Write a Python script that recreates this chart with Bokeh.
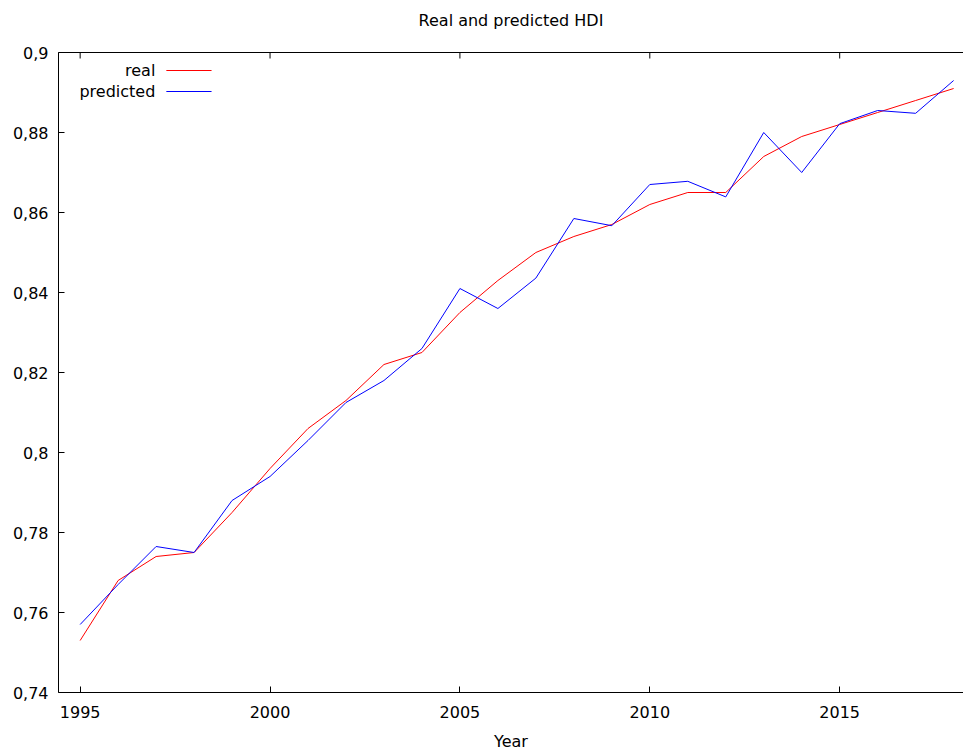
from bokeh.plotting import figure
from bokeh.models import (Range1d, FixedTicker, CustomJSTickFormatter, LinearAxis,
                          Label, Arrow)
from bokeh.embed import file_html
from bokeh.resources import INLINE

years = list(range(1995, 2019))
real = [0.753, 0.768, 0.774, 0.775, 0.785, 0.796, 0.806, 0.813, 0.822, 0.825,
        0.835, 0.843, 0.850, 0.854, 0.857, 0.862, 0.865, 0.865, 0.874, 0.879,
        0.882, 0.885, 0.888, 0.891]
predicted = [0.757, 0.767, 0.7765, 0.775, 0.788, 0.794, 0.803, 0.8125, 0.818, 0.826,
             0.841, 0.836, 0.8436, 0.8585, 0.8567, 0.867, 0.8678, 0.8639, 0.880, 0.870,
             0.8822, 0.8855, 0.8848, 0.893]
x_ticks = [1995, 2000, 2005, 2010, 2015]
y_ticks = [0.74, 0.76, 0.78, 0.80, 0.82, 0.84, 0.86, 0.88, 0.90]
series_names = ["real", "predicted"]
series_colors = ["#ff0000", "#0000ff"]
title_text = "Real and predicted HDI"
x_title = "Year"

FONT = "DejaVu Sans"
FS = "16px"
X0, X1, Y0, Y1 = 1994.43, 2018.26, 0.74, 0.90

p = figure(width=963, height=754, output_backend="svg", toolbar_location=None,
           x_range=Range1d(X0, X1), y_range=Range1d(Y0, Y1),
           min_border_left=58, min_border_right=0, min_border_top=52,
           min_border_bottom=62)

p.grid.visible = False
p.outline_line_color = None
p.background_fill_color = "white"
p.border_fill_color = "white"

fmt = CustomJSTickFormatter(code="return String(Math.round(tick*100)/100).replace('.', ',');")

for ax in [p.xaxis[0], p.yaxis[0]]:
    ax.major_tick_in = 6
    ax.major_tick_out = 0
    ax.minor_tick_in = 0
    ax.minor_tick_out = 0
    ax.axis_line_color = "#000000"
    ax.axis_line_width = 1
    ax.major_tick_line_color = "#000000"
    ax.major_label_text_font = FONT
    ax.major_label_text_font_size = FS
    ax.major_label_text_color = "#000000"

p.xaxis[0].ticker = FixedTicker(ticks=x_ticks)
p.xaxis[0].major_label_standoff = 13
p.xaxis[0].axis_label = x_title
p.xaxis[0].axis_label_text_font = FONT
p.xaxis[0].axis_label_text_font_size = FS
p.xaxis[0].axis_label_text_font_style = "normal"
p.xaxis[0].axis_label_text_color = "#000000"
p.xaxis[0].axis_label_standoff = 11
p.yaxis[0].ticker = FixedTicker(ticks=y_ticks)
p.yaxis[0].formatter = fmt
p.yaxis[0].major_label_standoff = 10

# top border line, carrying the chart title as its label
top = LinearAxis(ticker=FixedTicker(ticks=[]), major_tick_in=0, major_tick_out=0,
                 minor_tick_in=0, minor_tick_out=0, major_label_standoff=0,
                 axis_line_color="#000000", axis_label=title_text,
                 axis_label_text_font=FONT, axis_label_text_font_size=FS,
                 axis_label_text_font_style="normal", axis_label_text_color="#000000",
                 axis_label_standoff=23)
p.add_layout(top, "above")
# mirrored inward ticks on the top border
tick_len = (Y1 - Y0) / 640 * 6
p.segment(x0=x_ticks, y0=[Y1] * len(x_ticks), x1=x_ticks,
          y1=[Y1 - tick_len] * len(x_ticks), line_color="#000000", line_width=1)

p.line(years, real, line_color=series_colors[0], line_width=1)
p.line(years, predicted, line_color=series_colors[1], line_width=1)

# legend (gnuplot style: right-aligned text, then line sample)
leg_y = [0.8955, 0.89025]
for name, col, yy in zip(series_names, series_colors, leg_y):
    p.add_layout(Label(x=1996.98, y=yy, text=name, text_align="right",
                       text_baseline="middle", text_font=FONT, text_font_size=FS,
                       text_color="#000000"))
    p.add_layout(Arrow(x_start=1997.27, y_start=yy, x_end=1998.46, y_end=yy,
                       end=None, line_color=col, line_width=1))

open("out.html", "w").write(file_html(p, INLINE))
